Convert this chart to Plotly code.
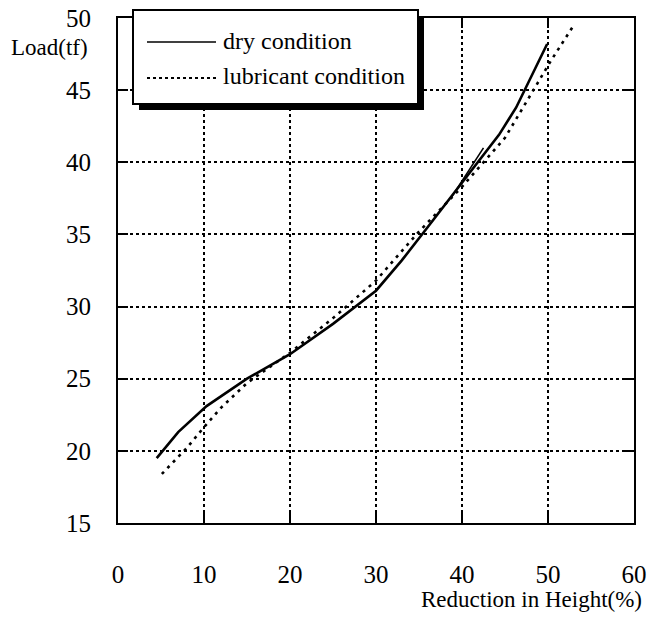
import plotly.graph_objects as go

# ---- data ----
dry_x = [4.5, 7.0, 10.3, 12.0, 15.0, 20.0, 25.0, 30.0, 33.0, 36.0, 40.0, 42.0, 44.3, 46.3, 48.0, 49.9]
dry_y = [19.5, 21.3, 23.1, 23.8, 25.0, 26.7, 28.8, 31.1, 33.2, 35.5, 38.6, 40.2, 41.9, 43.8, 45.9, 48.2]
dry_extra_x = [38.8, 42.5]
dry_extra_y = [37.6, 41.0]
lub_x = [5.1, 8.0, 9.8, 12.0, 15.0, 20.0, 25.0, 30.0, 35.0, 40.0, 45.0, 47.5, 49.5, 50.3, 53.1]
lub_y = [18.4, 20.2, 21.5, 23.0, 24.7, 26.8, 29.2, 31.8, 35.2, 38.3, 41.7, 44.2, 46.3, 47.0, 49.6]
x_ticks = [0, 10, 20, 30, 40, 50, 60]
y_ticks = [15, 20, 25, 30, 35, 40, 45, 50]
series_names = ["dry condition", "lubricant condition"]

FONT = "Liberation Serif, Times New Roman, serif"

fig = go.Figure()
fig.add_trace(go.Scatter(x=dry_x, y=dry_y, mode="lines", name=series_names[0],
                         line=dict(color="black", width=2.6), showlegend=False))
fig.add_trace(go.Scatter(x=dry_extra_x, y=dry_extra_y, mode="lines",
                         line=dict(color="black", width=1.6), showlegend=False))
fig.add_trace(go.Scatter(x=lub_x, y=lub_y, mode="lines", name=series_names[1],
                         line=dict(color="black", width=2.6, dash="3px,5px"), showlegend=False))

axis_common = dict(
    showline=True, linecolor="black", linewidth=2, mirror="ticks",
    ticks="inside", ticklen=10, tickwidth=2, tickcolor="black",
    showgrid=True, gridcolor="black", gridwidth=1.5, griddash="dot",
    zeroline=False, automargin=False,
    tickfont=dict(family=FONT, size=25, color="black"),
)
fig.update_xaxes(range=[0, 60], tickvals=x_ticks, ticklabelstandoff=28, **axis_common)
fig.update_yaxes(range=[15, 50], tickvals=y_ticks, ticklabelstandoff=20, **axis_common)

W, H = 649 - 118 - 15, 620 - 18 - 97
def px(x):
    return (x - 118) / W
def py(y):
    return 1 - (y - 18) / H

# axis titles
fig.add_annotation(text="Load(tf)", xref="paper", yref="paper", x=px(9), y=py(47),
                   xanchor="left", yanchor="middle", showarrow=False,
                   font=dict(family=FONT, size=23, color="black"))
fig.add_annotation(text="Reduction in Height(%)", xref="paper", yref="paper", x=px(644), y=py(599),
                   xanchor="right", yanchor="middle", showarrow=False,
                   font=dict(family=FONT, size=23, color="black"))

# manual legend box (with drop shadow)
fig.add_shape(type="rect", xref="paper", yref="paper",
              x0=px(139), x1=px(424), y0=py(110), y1=py(16),
              fillcolor="black", line=dict(width=0), layer="above")
fig.add_shape(type="rect", xref="paper", yref="paper",
              x0=px(133), x1=px(418), y0=py(104), y1=py(10),
              fillcolor="white", line=dict(color="black", width=2), layer="above")
fig.add_shape(type="line", xref="paper", yref="paper",
              x0=px(147), x1=px(216), y0=py(42), y1=py(42),
              line=dict(color="black", width=1.6), layer="above")
fig.add_shape(type="line", xref="paper", yref="paper",
              x0=px(147), x1=px(216), y0=py(78), y1=py(78),
              line=dict(color="black", width=2, dash="dot"), layer="above")
fig.add_annotation(text=series_names[0], xref="paper", yref="paper", x=px(221), y=py(41),
                   xanchor="left", yanchor="middle", showarrow=False,
                   font=dict(family=FONT, size=24, color="black"))
fig.add_annotation(text=series_names[1], xref="paper", yref="paper", x=px(221), y=py(76),
                   xanchor="left", yanchor="middle", showarrow=False,
                   font=dict(family=FONT, size=24, color="black"))

fig.update_layout(
    width=649, height=620,
    margin=dict(l=118, r=15, t=18, b=97),
    paper_bgcolor="white", plot_bgcolor="white",
    showlegend=False,
)

fig.write_html("out.html")
